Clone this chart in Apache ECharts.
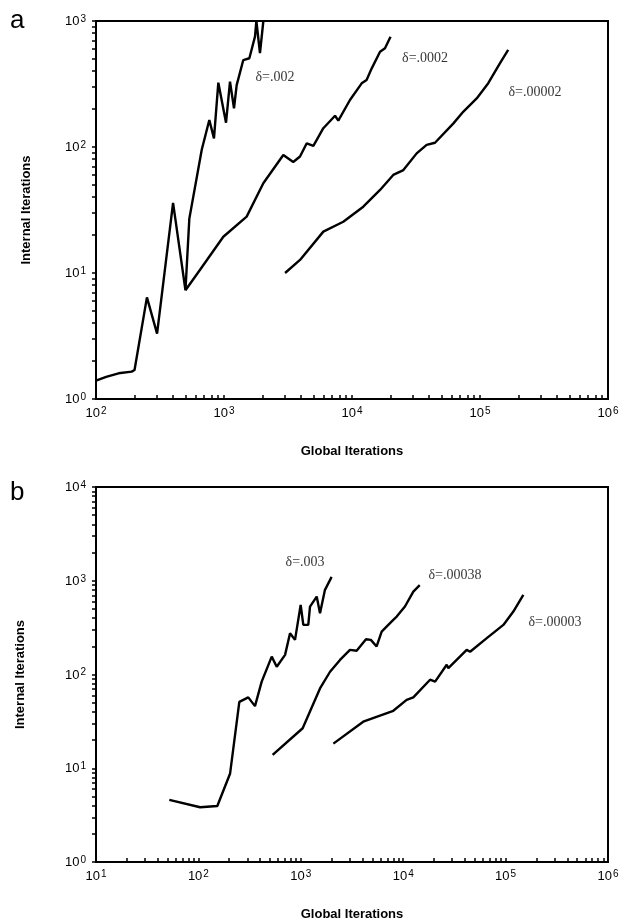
<!DOCTYPE html>
<html><head><meta charset="utf-8">
<script src="https://cdn.jsdelivr.net/npm/echarts@6/dist/echarts.min.js"></script>
<style>html,body{margin:0;padding:0;background:#fff}#c{width:628px;height:922px}</style>
</head><body><div id="c"></div>
<script>
// ---------- Panel a data (Global Iterations, Internal Iterations) ----------
const aD002X = [100, 120, 150, 190, 200, 250, 300, 400, 500, 536, 670, 768, 835, 903, 1037, 1114, 1197, 1256, 1415, 1578, 1746, 1790, 1910, 2030];
const aD002Y = [1.4, 1.5, 1.6, 1.65, 1.7, 6.4, 3.3, 36, 7.3, 27, 95, 164, 117, 324, 156, 330, 203, 310, 490, 506, 751, 1000, 555, 1000];
const aD0002X = [500, 650, 988, 1503, 2028, 2906, 3475, 3925, 4430, 4990, 5970, 7370, 7820, 9640, 11900, 13000, 14260, 16560, 18100, 20000];
const aD0002Y = [7.3, 10.6, 19.4, 28, 51.5, 86.4, 76, 84, 107, 102, 141, 177, 162, 236, 320, 340, 421, 570, 607, 751];
const aD00002X = [3000, 3925, 5970, 8550, 12250, 16560, 21000, 25200, 32000, 38300, 44500, 62000, 74200, 94200, 116000, 143000, 166000];
const aD00002Y = [10, 12.7, 21.3, 25.5, 33.6, 45.6, 60, 65.6, 89, 104, 108, 154, 191, 243, 321, 461, 590];

// ---------- Panel b data ----------
const bD003X = [52, 104, 153, 204, 251, 307, 357, 415, 520, 582, 702, 785, 878, 997, 1058, 1183, 1230, 1430, 1540, 1722, 2000];
const bD003Y = [4.6, 3.84, 3.96, 8.8, 51, 57, 46, 84, 155, 121, 162, 276, 234, 553, 338, 338, 530, 678, 451, 800, 1100];
const bD00038X = [531, 1043, 1540, 1930, 2415, 3020, 3510, 4330, 4830, 5500, 6160, 8000, 8640, 10400, 12560, 14500];
const bD00038Y = [13.9, 26.7, 71, 107, 143, 183, 179, 238, 234, 199, 287, 383, 415, 531, 767, 900];
const bD00003X = [2080, 4070, 8000, 10800, 12560, 18300, 20500, 26600, 27600, 41700, 45000, 65500, 95100, 119000, 149000];
const bD00003Y = [18.3, 31.4, 41, 53.6, 57, 88, 84, 127, 117, 183, 175, 244, 338, 469, 707];

// ---------- Axis ranges (decade exponents) and tick multipliers ----------
const aXDecades = [2, 3, 4, 5, 6];
const aYDecades = [0, 1, 2, 3];
const bXDecades = [1, 2, 3, 4, 5, 6];
const bYDecades = [0, 1, 2, 3, 4];
const tickMultipliers = [1, 2, 3, 4, 5, 6, 7, 8, 9];

// ---------- Curve annotations ----------
const aNames = ['δ=.002', 'δ=.0002', 'δ=.00002'];
const bNames = ['δ=.003', 'δ=.00038', 'δ=.00003'];

const L = Math.log10;
function pts(xs, ys) { return xs.map((x, i) => [L(x), L(ys[i])]); }
function ticks(decades) {
  const out = [];
  for (let i = 0; i < decades.length - 1; i++)
    tickMultipliers.forEach(m => out.push(decades[i] + L(m)));
  out.push(decades[decades.length - 1]);
  return out;
}
const FONT = 'Liberation Sans, Arial, sans-serif';
const rich = {
  b: { fontSize: 13, fontFamily: FONT, color: '#000', verticalAlign: 'bottom', lineHeight: 14 },
  s: { fontSize: 10, fontFamily: FONT, color: '#000', verticalAlign: 'top', lineHeight: 10, padding: [0, 0, 7, 1] }
};
const powFmt = v => '{b|10}{s|' + Math.round(v) + '}';

function xAxis(gi, dec, nameGap) {
  return {
    type: 'value', gridIndex: gi, min: dec[0], max: dec[dec.length - 1], interval: 1,
    name: 'Global Iterations', nameLocation: 'middle', nameGap: nameGap,
    nameTextStyle: { fontFamily: FONT, fontSize: 13, fontWeight: 'bold', color: '#000' },
    axisLine: { show: true, lineStyle: { color: '#000', width: 2 } },
    axisTick: { show: true, inside: true, length: 4, customValues: ticks(dec), lineStyle: { color: '#000', width: 1.5 } },
    axisLabel: { customValues: dec, formatter: powFmt, rich: rich, margin: 7 },
    splitLine: { show: false }
  };
}
function yAxis(gi, dec, nameGap) {
  return {
    type: 'value', gridIndex: gi, min: dec[0], max: dec[dec.length - 1], interval: 1,
    name: 'Internal Iterations', nameLocation: 'middle', nameGap: nameGap, nameRotate: 90,
    nameTextStyle: { fontFamily: FONT, fontSize: 13, fontWeight: 'bold', color: '#000' },
    axisLine: { show: true, lineStyle: { color: '#000', width: 2 } },
    axisTick: { show: true, inside: false, length: 4, customValues: ticks(dec), lineStyle: { color: '#000', width: 1.5 } },
    axisLabel: { customValues: dec, formatter: powFmt, rich: rich, margin: 10 },
    splitLine: { show: false }
  };
}
function line(gi, xs, ys) {
  return {
    type: 'line', xAxisIndex: gi, yAxisIndex: gi, data: pts(xs, ys),
    symbol: 'none', lineStyle: { color: '#000', width: 2.4 }, clip: true, z: 3
  };
}
function labels(gi, names, anchors) {
  return {
    type: 'scatter', xAxisIndex: gi, yAxisIndex: gi, symbolSize: 0, silent: true,
    data: names.map((n, i) => ({ name: n, value: [L(anchors[i][0]), L(anchors[i][1])] })),
    label: { show: true, position: 'inside', formatter: '{b}', fontFamily: 'Liberation Serif, Times New Roman, serif', fontSize: 14, color: '#000' }
  };
}

const chart = echarts.init(document.getElementById('c'), null, { renderer: 'canvas' });
chart.setOption({
  animation: false,
  backgroundColor: '#fff',
  grid: [
    { left: 96, right: 20, top: 21, height: 378, show: true, borderColor: '#000', borderWidth: 2, backgroundColor: 'transparent' },
    { left: 96, right: 20, top: 487, height: 375, show: true, borderColor: '#000', borderWidth: 2, backgroundColor: 'transparent' }
  ],
  xAxis: [xAxis(0, aXDecades, 46), xAxis(1, bXDecades, 46)],
  yAxis: [yAxis(0, aYDecades, 63), yAxis(1, bYDecades, 69)],
  graphic: [
    { type: 'text', left: 10, top: 8, style: { text: 'a', fontFamily: FONT, fontSize: 26, fill: '#000' } },
    { type: 'text', left: 10, top: 480, style: { text: 'b', fontFamily: FONT, fontSize: 26, fill: '#000' } }
  ],
  series: [
    line(0, aD002X, aD002Y), line(0, aD0002X, aD0002Y), line(0, aD00002X, aD00002Y),
    labels(0, aNames, [[2500, 360], [37200, 508], [269000, 273]]),
    line(1, bD003X, bD003Y), line(1, bD00038X, bD00038Y), line(1, bD00003X, bD00003Y),
    labels(1, bNames, [[1100, 1590], [32000, 1156], [303000, 356]])
  ]
});
</script></body></html>
